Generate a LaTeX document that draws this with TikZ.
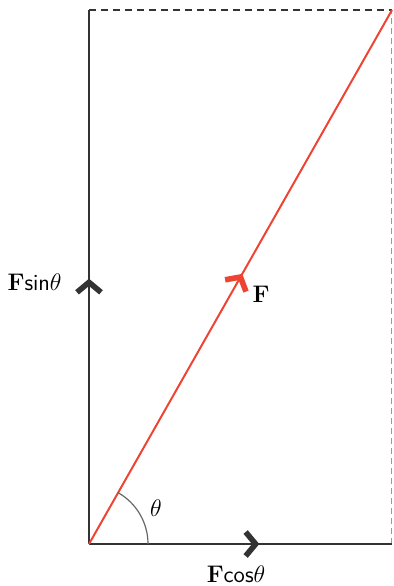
\documentclass[tikz,border=0pt]{standalone}
\usepackage{amsmath}
\usepackage{xcolor}
\usetikzlibrary{positioning,arrows.meta,calc,decorations.markings}

\definecolor{axisgray}{HTML}{333333}
\definecolor{forcered}{HTML}{EE4433}

\begin{document}
\begin{tikzpicture}[
  x=0.5pt, y=-0.5pt,
  side/.style={draw=axisgray, line width=1.4pt},
  force/.style={draw=forcered, line width=1pt},
  guide/.style={draw=axisgray, line width=0.9pt, dash pattern=on 3.5pt off 2.5pt},
  guidelight/.style={draw=black!40, line width=0.5pt, dash pattern=on 3pt off 2pt},
  chevron/.style={line width=2.8pt, line cap=butt, line join=miter},
  midchevron/.style 2 args={postaction={decorate}, decoration={markings,
      mark=at position #1 with {\draw[chevron, #2] (-5pt,-6pt) -- (0,0) -- (-5pt,6pt);}}},
  label/.style={font=\fontsize{11.5}{14}\selectfont, inner sep=0pt}
]
\useasboundingbox (0,0) rectangle (394,586);

% Eckpunkte
\coordinate (O) at (89,544);
\coordinate (A) at (89,10);
\coordinate (B) at (392,544);
\coordinate (C) at (392,10);

% Hilfslinien (gestrichelt)
\draw[guide] (A) -- (C);
\draw[guidelight] (B) -- (C);

% Komponenten
\draw[side, midchevron={0.49}{axisgray}] (O) -- (A);
\draw[side, midchevron={0.55}{axisgray}] (O) -- (B);

% Kraft F
\draw[force, midchevron={0.5}{forcered}] (O) -- (C);

% Winkel
\draw[black!60, line width=0.6pt] ($(O)+(59,0)$) arc[start angle=0, end angle=60.35, radius=29.5pt];

% Beschriftungen
\node[label, anchor=east] (fsin) at (62,282) {$\mathbf{F}\textsf{sin}\theta$};
\node[label] (f) at (261,294) {$\mathbf{F}$};
\node[label] (fcos) at (236,574) {$\mathbf{F}\textsf{cos}\theta$};
\node[label] (theta) at (156,508) {$\theta$};

\end{tikzpicture}
\end{document}
